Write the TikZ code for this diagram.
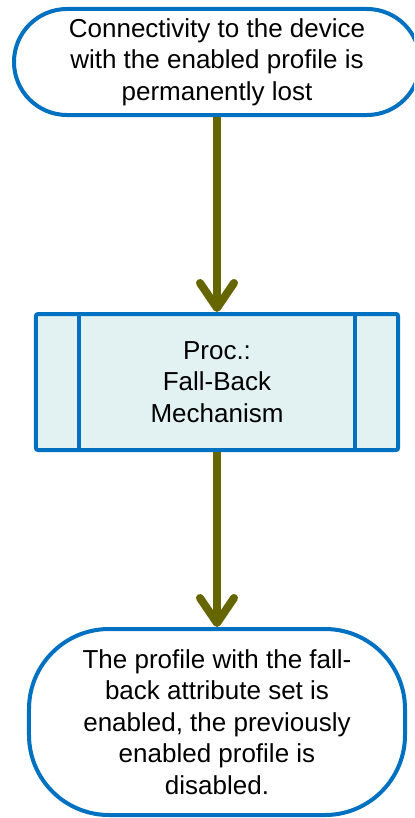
\documentclass[tikz,border=0pt]{standalone}
\usepackage{fontspec}
\setmainfont{Liberation Sans}
\usetikzlibrary{arrows.meta}
\definecolor{flowblue}{RGB}{0,112,192}
\definecolor{flowolive}{RGB}{102,102,0}
\definecolor{procfill}{RGB}{226,242,243}
\tikzset{
  txt/.style={align=center, font=\fontsize{26bp}{31.5bp}\selectfont, text=black, inner sep=0pt},
  terminal/.style={txt, draw=flowblue, line width=4bp, fill=white},
  procbox/.style={txt, draw=flowblue, line width=4bp, fill=procfill, rounded corners=2bp,
    minimum width=362bp, minimum height=136bp},
  flowarrow/.style={draw=flowolive, line width=8bp,
    -{Straight Barb[length=25bp, width=34bp, round]}},
}
\begin{document}
\begin{tikzpicture}[x=1bp, y=-1bp]
  \clip (0,0) rectangle (414,818);
  \fill[white] (0,0) rectangle (414,818);
  \node[terminal, rounded corners=53bp, minimum width=406bp, minimum height=106bp] (start) at (217,62)
    {Connectivity to the device\\with the enabled profile is\\permanently lost};
  \node[procbox] (proc) at (217,382) {Proc.:\\Fall-Back\\Mechanism};
  \draw[flowblue, line width=4bp] ([xshift=45bp]proc.north west) coordinate (pl1) -- ([xshift=45bp]proc.south west) coordinate (pl2);
  \draw[flowblue, line width=4bp] ([xshift=-45bp]proc.north east) coordinate (pr1) -- ([xshift=-45bp]proc.south east) coordinate (pr2);
  \node[terminal, rounded corners=80bp, minimum width=376bp, minimum height=186bp] (finish) at (217,722)
    {The profile with the fall-\\back attribute set is\\enabled, the previously\\enabled profile is\\disabled.};
  \draw[flowarrow] (start.south) -- (proc.north);
  \draw[flowarrow] (proc.south) -- (finish.north);
\end{tikzpicture}
\end{document}
